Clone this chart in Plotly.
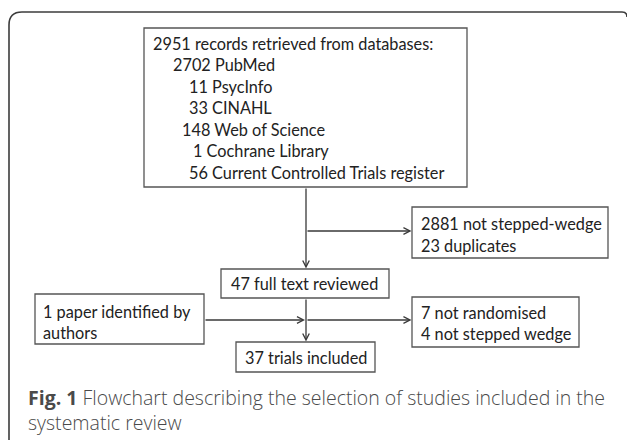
import plotly.graph_objects as go

# ---- content (flowchart data) ----
search_header = "2951 records retrieved from databases:"
database_lines = ["2702 PubMed", "11 PsycInfo", "33 CINAHL", "148 Web of Science",
                  "1 Cochrane Library", "56 Current Controlled Trials register"]
excluded_screen = ["2881 not stepped-wedge", "23 duplicates"]
full_text = ["47 full text reviewed"]
added_by_authors = ["1 paper identified by", "authors"]
excluded_full = ["7 not randomised", "4 not stepped wedge"]
included = ["37 trials included"]
caption_bold = "Fig. 1"
caption_line1 = "Flowchart describing the selection of studies included in the"
caption_line2 = "systematic review"

# ---- layout (pixel geometry) ----
W, H = 627, 440
BOX_FONT = "Lato"
BOX_SIZE = 16.3
BOX_COLOR = "#222"
LINE_COLOR = "#3a3a3a"
BORDER_COLOR = "#555"

# boxes: (x0, y0, x1, y1)
box_search = (144, 28, 467, 187)
box_excl1 = (412, 207, 608, 258)
box_full = (221, 269, 389, 298)
box_added = (35, 294, 204, 344)
box_excl2 = (412, 297, 579, 347)
box_incl = (236, 342, 375, 372)

db_x = [171, 187, 187, 180, 191, 187]
db_y0, db_dy = 43, 21.5

fig = go.Figure()
shapes = []
annotations = []

# outer frame (open at bottom, rounded top-left corner)
shapes.append(dict(type="path", xref="x", yref="y",
                   path="M 9,441 L 9,25 Q 9,12 22,12 L 622,12 Q 627,12 627,17",
                   line=dict(color="#3c3c3c", width=1.6)))

for b in [box_search, box_excl1, box_full, box_added, box_excl2, box_incl]:
    shapes.append(dict(type="rect", xref="x", yref="y", x0=b[0], y0=b[1], x1=b[2], y1=b[3],
                       line=dict(color=BORDER_COLOR, width=1.3), fillcolor="white", layer="below"))


def text(x, y, s, size=BOX_SIZE, color=BOX_COLOR, family=BOX_FONT, weight=None):
    f = dict(family=family, size=size, color=color)
    if weight is not None:
        f["weight"] = weight
    annotations.append(dict(x=x, y=y, xref="x", yref="y", text=s, showarrow=False,
                            xanchor="left", yanchor="middle", align="left", font=f))


# search box text
text(151, db_y0, search_header)
for i, s in enumerate(database_lines):
    text(db_x[i], db_y0 + db_dy * (i + 1), s)

for i, s in enumerate(excluded_screen):
    text(419, 223 + 22 * i, s)
for s in full_text:
    text(229, 283.5, s)
for i, s in enumerate(added_by_authors):
    text(41, 311 + 21.5 * i, s)
for i, s in enumerate(excluded_full):
    text(419, 312 + 21 * i, s)
for s in included:
    text(243, 357, s)

# connectors / arrows
def arrow(x0, y0, x1, y1, head=True):
    annotations.append(dict(x=x1, y=y1, ax=x0, ay=y0, xref="x", yref="y", axref="x", ayref="y",
                            text="", showarrow=True, arrowhead=5 if head else 0,
                            arrowsize=1.0, arrowwidth=1.3, arrowcolor=LINE_COLOR,
                            standoff=0, startstandoff=0))

arrow(306, 187, 306, 268.5)
arrow(306, 231, 411.5, 231)
arrow(306, 298, 306, 341.5)
arrow(204, 320, 305, 320)
arrow(306, 320, 411.5, 320)

# caption (single two-line text block)
text(26, 410, "<b>" + caption_bold + "</b> " + caption_line1 + "<br>" + caption_line2,
     size=19.5, color="#4a4a4a", family="Open Sans", weight=300)

fig.update_layout(
    width=W, height=H, margin=dict(l=0, r=0, t=0, b=0),
    paper_bgcolor="white", plot_bgcolor="white",
    xaxis=dict(range=[0, W], visible=False, fixedrange=True),
    yaxis=dict(range=[H, 0], visible=False, fixedrange=True),
    shapes=shapes, annotations=annotations, showlegend=False,
)

fig.write_html("out.html", config={"displayModeBar": False},
               post_script="document.body.style.margin='0';document.body.style.overflow='hidden';")
